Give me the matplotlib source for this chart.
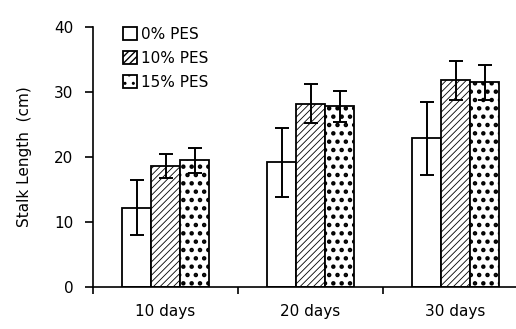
import numpy as np
import matplotlib
matplotlib.use("Agg")
import matplotlib.pyplot as plt

# data
days = ["10 days", "20 days", "30 days"]
series = ["0% PES", "10% PES", "15% PES"]
pes0 = [12.2, 19.2, 22.9]
pes0_err = [4.2, 5.3, 5.6]
pes10 = [18.6, 28.2, 31.8]
pes10_err = [1.9, 3.0, 3.0]
pes15 = [19.5, 27.8, 31.5]
pes15_err = [1.9, 2.4, 2.7]

plt.rcParams['font.family'] = ['DejaVu Sans']
plt.rcParams['font.size'] = 11

fig = plt.figure(figsize=(5.16, 3.29), dpi=100)
ax = fig.add_axes([93 / 516, 1 - 287 / 329, 435 / 516, 260 / 329])

x = np.arange(len(days))
w = 0.2
styles = [
    (pes0, pes0_err, "", 1.0),
    (pes10, pes10_err, "/////", 0.6),
    (pes15, pes15_err, "..", 2.0),
]
for i, (vals, errs, hatch, hlw) in enumerate(styles):
    with plt.rc_context({'hatch.linewidth': hlw}):
        ax.bar(x + (i - 1) * w, vals, w, yerr=errs, color="white", edgecolor="black",
               linewidth=1.3, hatch=hatch, label=series[i],
               error_kw=dict(ecolor="black", elinewidth=1.4, capsize=5, capthick=1.4))

ax.set_xlim(-0.5, 2.5)
ax.set_ylim(0, 40)
ax.set_yticks([0, 10, 20, 30, 40])
ax.set_ylabel("Stalk Length  (cm)", fontsize=11, labelpad=16)

ax.set_xticks([-0.5, 0.5, 1.5, 2.5])
ax.set_xticklabels([])
ax.set_xticks(x, minor=True)
ax.set_xticklabels(days, minor=True)
ax.tick_params(axis="x", which="major", direction="out", length=5, width=1.2)
ax.tick_params(axis="x", which="minor", length=0, pad=12)
ax.tick_params(axis="y", direction="out", length=6, width=1.2, pad=8)

for s in ["top", "right"]:
    ax.spines[s].set_visible(False)
ax.spines["left"].set_linewidth(1.2)
ax.spines["bottom"].set_linewidth(1.2)

ax.legend(loc="upper left", bbox_to_anchor=(0.055, 1.025), frameon=False,
          handlelength=0.9, handleheight=0.9, handletextpad=0.3,
          labelspacing=0.6, fontsize=11, borderaxespad=0.0)

fig.savefig("out.png", dpi=100)
